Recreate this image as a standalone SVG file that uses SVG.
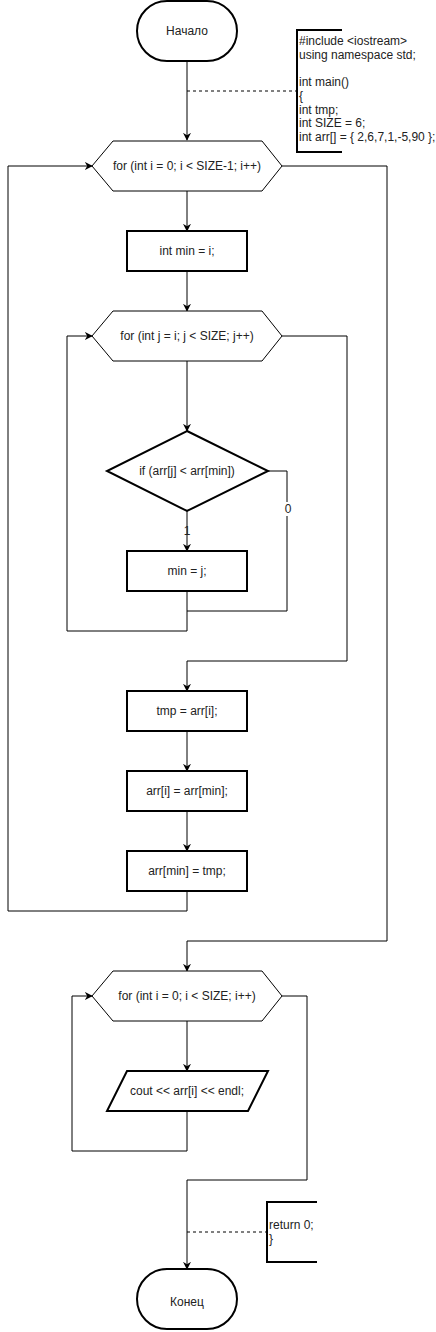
<svg xmlns="http://www.w3.org/2000/svg" width="436" height="1332" viewBox="0 0 436 1332">
<style>
text{font-family:"Liberation Sans",Arial,sans-serif;font-size:12px;fill:#222}
.c{text-anchor:middle;dominant-baseline:central}
.n{fill:#fff;stroke:#000;stroke-width:2}
.h{fill:#fff;stroke:#000;stroke-width:1}
.e{fill:none;stroke:#000;stroke-width:1}
.d{fill:none;stroke:#000;stroke-width:1;stroke-dasharray:3 3}
.b{fill:none;stroke:#000;stroke-width:2}
</style>
<defs>
<marker id="a" viewBox="0 0 10 10" refX="9" refY="5" markerWidth="8" markerHeight="8" markerUnits="userSpaceOnUse" orient="auto">
<path d="M0,0 L10,5 L0,10 L3,5 Z" fill="#000"/>
</marker>
</defs>
<rect width="436" height="1332" fill="#fff"/>
<g id="connectors">
<path class="e" d="M187,61 V140" marker-end="url(#a)"/>
<path class="d" d="M187,91 H297"/>
<path class="e" d="M187,191 V231" marker-end="url(#a)"/>
<path class="e" d="M187,271 V311" marker-end="url(#a)"/>
<path class="e" d="M187,361 V431" marker-end="url(#a)"/>
<path class="e" d="M187,511 V551" marker-end="url(#a)"/>
<path class="e" d="M268,471 H287 V611 H187"/>
<path class="e" d="M187,591 V631 H67 V336 H92" marker-end="url(#a)"/>
<path class="e" d="M282,336 H347 V661 H187 V691" marker-end="url(#a)"/>
<path class="e" d="M187,731 V771" marker-end="url(#a)"/>
<path class="e" d="M187,811 V851" marker-end="url(#a)"/>
<path class="e" d="M187,891 V911 H8 V166 H92" marker-end="url(#a)"/>
<path class="e" d="M282,166 H387 V941 H187 V971" marker-end="url(#a)"/>
<path class="e" d="M187,1021 V1071" marker-end="url(#a)"/>
<path class="e" d="M187,1111 V1151 H72 V996 H92" marker-end="url(#a)"/>
<path class="e" d="M282,996 H307 V1180 H187 V1269" marker-end="url(#a)"/>
<path class="d" d="M187,1232 H267"/>
<text class="c" x="187" y="531">1</text>
<rect x="283" y="502" width="9" height="14" fill="#fff"/>
<text class="c" x="288" y="509">0</text>
</g>
<g id="start">
<rect class="n" x="137" y="1" width="100" height="60" rx="30" ry="30"/>
<text class="c" x="187" y="31">Начало</text>
</g>
<g id="comment1">
<path class="b" d="M342,30 H297 V152 H342"/>
<text x="299" y="45">#include &lt;iostream&gt;</text>
<text x="299" y="59">using namespace std;</text>
<text x="299" y="86">int main()</text>
<text x="299" y="100">{</text>
<text x="299" y="114">int tmp;</text>
<text x="299" y="127">int SIZE = 6;</text>
<text x="299" y="141">int arr[] = { 2,6,7,1,-5,90 };</text>
</g>
<g id="for1">
<polygon class="h" points="92,166 113,141 262,141 282,166 262,191 113,191"/>
<text class="c" x="187" y="166">for (int i = 0; i &lt; SIZE-1; i++)</text>
</g>
<g id="intmin">
<rect class="n" x="127" y="231" width="120" height="40"/>
<text class="c" x="187" y="251">int min = i;</text>
</g>
<g id="for2">
<polygon class="h" points="92,336 113,311 262,311 282,336 262,361 113,361"/>
<text class="c" x="187" y="336">for (int j = i; j &lt; SIZE; j++)</text>
</g>
<g id="if">
<polygon class="n" points="187,431 268,471 187,511 107,471"/>
<text class="c" x="187" y="471">if (arr[j] &lt; arr[min])</text>
</g>
<g id="minj">
<rect class="n" x="127" y="551" width="120" height="40"/>
<text class="c" x="187" y="571">min = j;</text>
</g>
<g id="tmp">
<rect class="n" x="127" y="691" width="120" height="40"/>
<text class="c" x="187" y="711">tmp = arr[i];</text>
</g>
<g id="swap1">
<rect class="n" x="127" y="771" width="120" height="40"/>
<text class="c" x="187" y="791">arr[i] = arr[min];</text>
</g>
<g id="swap2">
<rect class="n" x="127" y="851" width="120" height="40"/>
<text class="c" x="187" y="871">arr[min] = tmp;</text>
</g>
<g id="for3">
<polygon class="h" points="92,996 113,971 262,971 282,996 262,1021 113,1021"/>
<text class="c" x="187" y="996">for (int i = 0; i &lt; SIZE; i++)</text>
</g>
<g id="output">
<polygon class="n" points="127,1071 268,1071 248,1111 107,1111"/>
<text class="c" x="187" y="1091">cout &lt;&lt; arr[i] &lt;&lt; endl;</text>
</g>
<g id="comment2">
<path class="b" d="M317,1202 H267 V1262 H317"/>
<text x="269" y="1229">return 0;</text>
<text x="269" y="1243">}</text>
</g>
<g id="end">
<rect class="n" x="137" y="1269" width="100" height="60" rx="30" ry="30"/>
<text class="c" x="187" y="1302">Конец</text>
</g>
</svg>
